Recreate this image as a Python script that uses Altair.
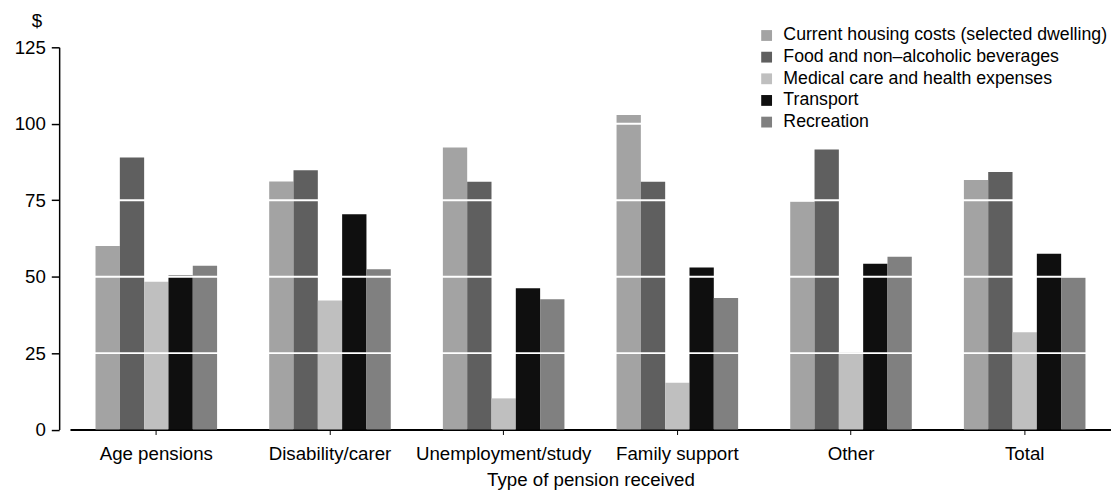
import altair as alt
import pandas as pd

categories = ["Age pensions", "Disability/carer", "Unemployment/study",
              "Family support", "Other", "Total"]
series = ["Current housing costs (selected dwelling)",
          "Food and non\u2013alcoholic beverages",
          "Medical care and health expenses",
          "Transport",
          "Recreation"]
colors = ["#a3a3a3", "#5f5f5f", "#bfbfbf", "#0f0f0f", "#808080"]

housing = [60.0, 81.1, 92.2, 102.9, 74.5, 81.6]
food = [89.0, 84.8, 81.0, 81.0, 91.6, 84.2]
medical = [48.3, 42.2, 10.2, 15.3, 25.3, 31.8]
transport = [50.4, 70.4, 46.2, 53.0, 54.2, 57.5]
recreation = [53.6, 52.4, 42.6, 43.0, 56.5, 49.8]

y_ticks = [0, 25, 50, 75, 100, 125]
grid_values = [25, 50, 75, 100]

rows = []
for s, vals in zip(series, [housing, food, medical, transport, recreation]):
    for c, v in zip(categories, vals):
        rows.append({"type": c, "item": s, "value": v})
df = pd.DataFrame(rows)

FONT = "Liberation Sans"
FS = 19
LFS = 18

bars = alt.Chart(df).mark_bar().encode(
    x=alt.X("type:N", sort=categories,
            scale=alt.Scale(paddingInner=0.3, paddingOuter=0.147),
            axis=alt.Axis(title="Type of pension received", labelAngle=0,
                          domainColor="black", domainWidth=2,
                          tickColor="black", tickSize=5, tickWidth=1,
                          labelFont=FONT, labelFontSize=FS, labelColor="black",
                          labelPadding=10, titleFont=FONT, titleFontSize=FS,
                          titleFontWeight="normal", titleColor="black",
                          titlePadding=8)),
    xOffset=alt.XOffset("item:N", sort=series,
                        scale=alt.Scale(paddingInner=0, paddingOuter=0)),
    y=alt.Y("value:Q", title="$",
            scale=alt.Scale(domain=[0, 125], nice=False),
            axis=alt.Axis(values=y_ticks, grid=False, offset=11,
                          domainColor="black", domainWidth=1.5,
                          tickColor="black", tickSize=8, tickWidth=1.5,
                          labelFont=FONT, labelFontSize=FS, labelColor="black",
                          labelPadding=6,
                          titleFont=FONT, titleFontSize=FS,
                          titleFontWeight="normal", titleColor="black",
                          titleAngle=0, titleX=-23, titleY=-17,
                          titleAlign="center", titleBaseline="bottom")),
    color=alt.Color("item:N", sort=series,
                    scale=alt.Scale(domain=series, range=colors),
                    legend=alt.Legend(title=None, orient="none",
                                      legendX=699, legendY=-21,
                                      symbolType="square", symbolSize=121,
                                      symbolStrokeWidth=0, padding=0,
                                      labelFont=FONT, labelFontSize=LFS,
                                      labelColor="black", labelOffset=8,
                                      labelLimit=0, rowPadding=4)),
)

grid = alt.Chart(pd.DataFrame({"g": grid_values})).mark_rule(
    color="white", strokeWidth=2).encode(
    y=alt.Y("g:Q", title="$"))

chart = alt.layer(bars, grid).properties(
    width=1058, height=388.5,
    padding={"left": 63, "top": 36, "right": 0, "bottom": 60},
    autosize=alt.AutoSizeParams(type="none"),
).configure_view(stroke=None)

chart.save("out.html", embed_options={"renderer": "svg", "actions": False})
